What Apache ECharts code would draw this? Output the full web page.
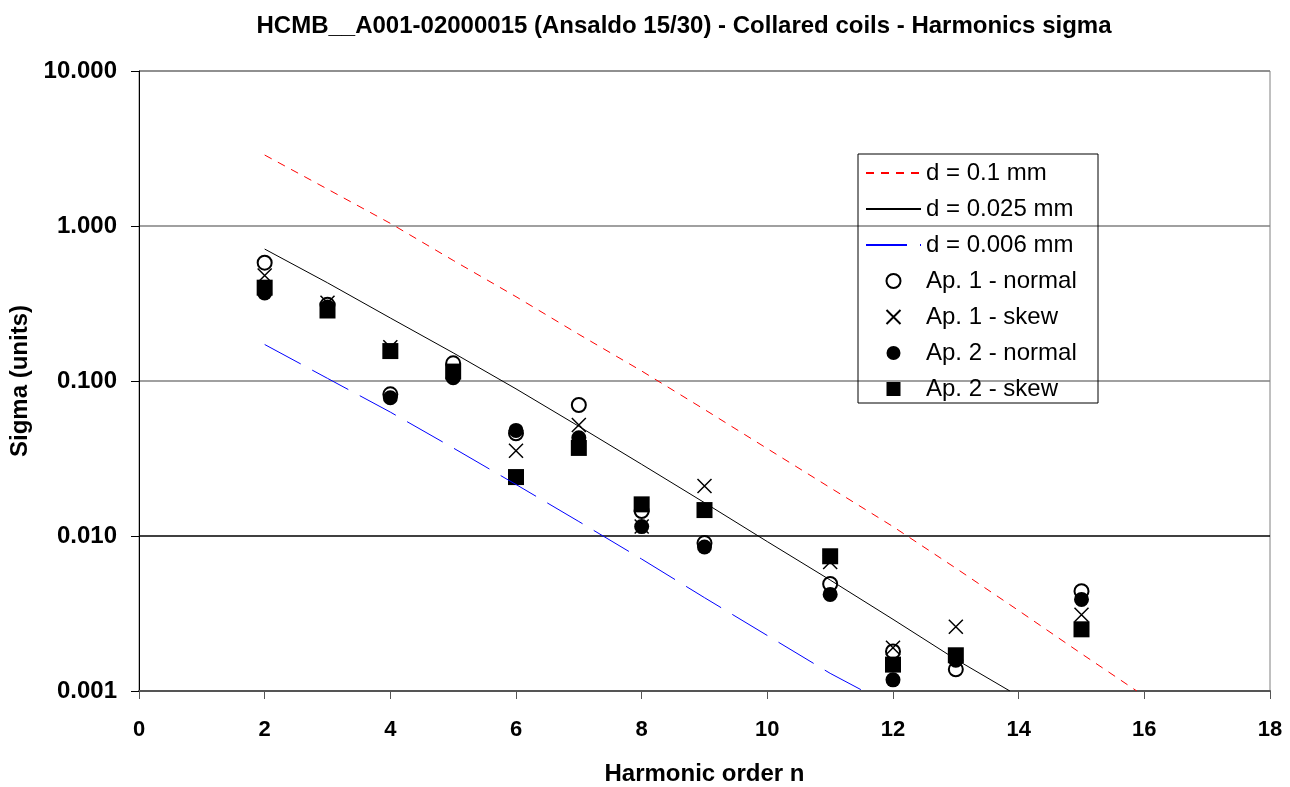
<!DOCTYPE html>
<html>
<head>
<meta charset="utf-8">
<script src="https://cdn.jsdelivr.net/npm/echarts@6/dist/echarts.min.js"></script>
<style>
  html, body { margin: 0; padding: 0; background: #fff; }
  #main { width: 1290px; height: 787px; }
</style>
</head>
<body>
<div id="main"></div>
<script>
// harmonic orders where measurements exist
var orders = [2, 3, 4, 5, 6, 7, 8, 9, 11, 12, 13, 15];

var ap1Normal = [0.58, 0.31, 0.082, 0.13, 0.046, 0.070, 0.0145, 0.0090, 0.0049, 0.0018, 0.00138, 0.0044];
var ap1Skew   = [0.48, 0.32, 0.165, 0.115, 0.0355, 0.052, 0.0115, 0.021, 0.0068, 0.0019, 0.0026, 0.0031];
var ap2Normal = [0.37, 0.30, 0.078, 0.105, 0.048, 0.043, 0.0115, 0.0085, 0.0042, 0.00118, 0.00158, 0.0039];
var ap2Skew   = [0.40, 0.285, 0.156, 0.115, 0.024, 0.037, 0.016, 0.0147, 0.0074, 0.00148, 0.0017, 0.0025];

// reference curves for coil displacement d
var d100n = [2, 3, 4, 5, 6, 7, 8, 9, 10, 11, 12, 13, 14, 15, 15.88];
var d100v = [2.87, 1.73, 1.04, 0.60, 0.35, 0.20, 0.116, 0.0655, 0.0366, 0.0205, 0.0115, 0.0062, 0.0033, 0.00174, 0.001];
var d025n = [2, 3, 4, 5, 6, 7, 8, 9, 10, 11, 12, 13, 13.86];
var d025v = [0.71, 0.43, 0.255, 0.152, 0.089, 0.051, 0.029, 0.0164, 0.0092, 0.0052, 0.0029, 0.0016, 0.001];
var d006n = [2, 3, 4, 5, 6, 7, 8, 9, 10, 11, 11.53];
var d006v = [0.172, 0.104, 0.063, 0.037, 0.0215, 0.0124, 0.0071, 0.0040, 0.00228, 0.0013, 0.001];

var yTicks = ['0.001', '0.010', '0.100', '1.000', '10.000'];

function pairs(xs, ys) {
  return xs.map(function (x, i) { return [x, ys[i]]; });
}

var font = "'Liberation Sans', Arial, sans-serif";
var noSymbol = { opacity: 0 };
var chart = echarts.init(document.getElementById('main'));

chart.setOption({
  animation: false,
  backgroundColor: '#fff',
  title: {
    text: 'HCMB__A001-02000015 (Ansaldo 15/30) - Collared coils - Harmonics sigma',
    left: 679,
    top: 9,
    textAlign: 'center',
    textStyle: { fontFamily: font, fontSize: 24, fontWeight: 'bold', color: '#000' }
  },
  grid: {
    left: 139, right: 20, top: 71, bottom: 96,
    outerBoundsMode: 'none',
    show: true, borderColor: '#808080', borderWidth: 1
  },
  legend: {
    orient: 'vertical',
    left: 860,
    top: 156,
    itemWidth: 55,
    itemHeight: 14,
    itemGap: 12,
    textStyle: { fontFamily: font, fontSize: 24, color: '#000', lineHeight: 22 },
    data: [
      { name: 'd = 0.1 mm', itemStyle: noSymbol },
      { name: 'd = 0.025 mm', itemStyle: noSymbol },
      { name: 'd = 0.006 mm', itemStyle: noSymbol },
      'Ap. 1 - normal', 'Ap. 1 - skew', 'Ap. 2 - normal', 'Ap. 2 - skew'
    ]
  },
  graphic: [{
    type: 'rect',
    shape: { x: 858, y: 154, width: 240, height: 249 },
    style: { fill: 'none', stroke: '#000', lineWidth: 1 },
    z: 100
  }],
  xAxis: {
    type: 'value',
    min: 0, max: 18, interval: 2,
    name: 'Harmonic order n',
    nameLocation: 'middle',
    nameGap: 71,
    nameTextStyle: { fontFamily: font, fontSize: 24, fontWeight: 'bold', color: '#000' },
    axisLine: { lineStyle: { color: '#555', width: 2 } },
    axisTick: { show: true, length: 8, lineStyle: { color: '#555' } },
    axisLabel: { fontFamily: font, fontSize: 22, fontWeight: 'bold', color: '#000', margin: 28 },
    splitLine: { show: false }
  },
  yAxis: {
    type: 'log',
    logBase: 10,
    min: 0.001, max: 10,
    name: 'Sigma (units)',
    nameLocation: 'middle',
    nameGap: 102,
    nameTextStyle: { fontFamily: font, fontSize: 24, fontWeight: 'bold', color: '#000' },
    axisLine: { show: true, lineStyle: { color: '#000', width: 1 } },
    axisTick: { show: true, length: 8, lineStyle: { color: '#000' } },
    axisLabel: {
      fontFamily: font, fontSize: 24, fontWeight: 'bold', color: '#000', margin: 22,
      formatter: function (v) {
        var i = Math.round(Math.log10(v)) + 3;
        return yTicks[i] || '';
      }
    },
    splitLine: { show: true, lineStyle: { color: ['#808080', '#000', '#808080', '#808080', '#808080'], width: 1.5 } }
  },
  series: [
    {
      name: 'd = 0.1 mm', type: 'line', symbol: 'none',
      data: pairs(d100n, d100v),
      lineStyle: { color: '#ff0000', width: 1, type: [8, 7] },
      itemStyle: { color: '#ff0000' }
    },
    {
      name: 'd = 0.025 mm', type: 'line', symbol: 'none',
      data: pairs(d025n, d025v),
      lineStyle: { color: '#000', width: 1 },
      itemStyle: { color: '#000' }
    },
    {
      name: 'd = 0.006 mm', type: 'line', symbol: 'none',
      data: pairs(d006n, d006v),
      lineStyle: { color: '#0000ff', width: 1, type: [41, 13] },
      itemStyle: { color: '#0000ff' }
    },
    {
      name: 'Ap. 1 - normal', type: 'scatter', symbol: 'emptyCircle', symbolSize: 14,
      data: pairs(orders, ap1Normal),
      itemStyle: { color: '#000', borderColor: '#000', borderWidth: 1.5, opacity: 1 }
    },
    {
      name: 'Ap. 1 - skew', type: 'scatter', symbol: 'path://M0,0L10,10M10,0L0,10', symbolSize: 14,
      symbolKeepAspect: true,
      data: pairs(orders, ap1Skew),
      itemStyle: { color: 'rgba(0,0,0,0)', borderColor: '#000', borderWidth: 1.5, opacity: 1 }
    },
    {
      name: 'Ap. 2 - normal', type: 'scatter', symbol: 'circle', symbolSize: 15,
      data: pairs(orders, ap2Normal),
      itemStyle: { color: '#000', opacity: 1 }
    },
    {
      name: 'Ap. 2 - skew', type: 'scatter', symbol: 'path://M0,0L10,0L10,10L0,10Z', symbolSize: 16,
      symbolKeepAspect: true,
      data: pairs(orders, ap2Skew),
      itemStyle: { color: '#000', opacity: 1 }
    }
  ]
});
</script>
</body>
</html>
